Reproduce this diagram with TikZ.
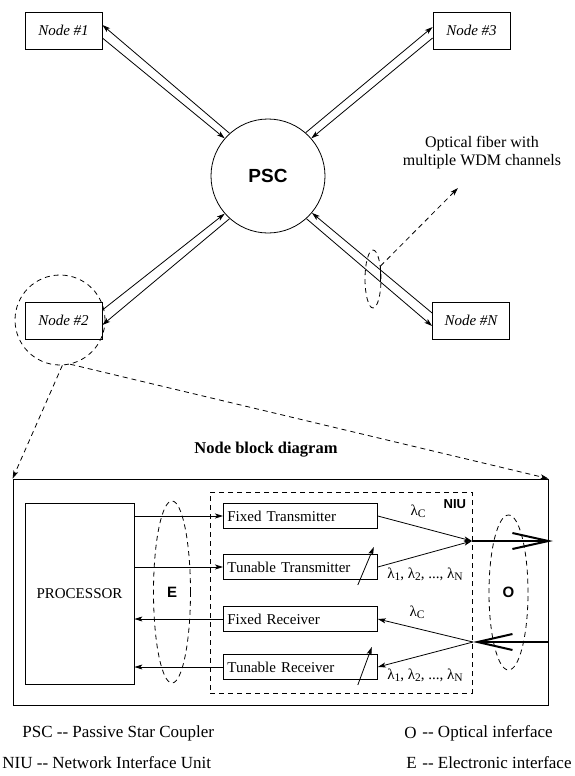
\documentclass[tikz,border=0pt]{standalone}
\usepackage{fontspec}
\setmainfont{Liberation Serif}
\setsansfont{Liberation Sans}
\usetikzlibrary{arrows.meta,shapes.geometric,calc}
\newcommand{\lsub}[1]{λ\raisebox{-0.35ex}{\fontsize{11.5}{11.5}\selectfont #1}}
\begin{document}
\begin{tikzpicture}[x=1pt,y=-1pt,line width=0.8pt,
  nodebox/.style={draw,rectangle,minimum width=77pt,minimum height=37pt,inner sep=0pt,
    font=\fontsize{15}{15}\selectfont\itshape},
  fib/.style={-{Stealth[length=8pt,width=5pt,inset=2pt]}},
  sarr/.style={-{Stealth[length=8pt,width=5pt,inset=2pt]}},
  dsh/.style={dash pattern=on 5pt off 4pt},
  unitbox/.style={draw,rectangle,minimum width=154pt,minimum height=25pt,inner sep=0pt,
    anchor=west,text width=146pt,align=left,font=\fontsize{15}{15}\selectfont},
  ilabel/.style={font=\fontsize{15}{15}\selectfont\bfseries\sffamily},
  lam/.style={font=\fontsize{15}{15}\selectfont,inner sep=0pt},
  optarr/.style={line width=2pt},
  legend/.style={anchor=west,inner sep=0pt,font=\fontsize{17}{17}\selectfont}]
\useasboundingbox (0,0) rectangle (574,776);

% ---------- star network ----------
\node[nodebox] (n1) at (63.5,30.5) {Node \#1};
\node[nodebox] (n3) at (471.5,30.5) {Node \#3};
\node[nodebox] (n2) at (63.5,320.5) {Node \#2};
\node[nodebox] (nN) at (471,320.5) {Node \#N};
\node[draw,circle,minimum size=114pt,inner sep=0pt,
      font=\fontsize{19}{19}\selectfont\bfseries\sffamily] (psc) at (268,176) {PSC};

\draw[fib] (psc.132) -- ([yshift=5.5pt]n1.east);
\draw[fib] ([yshift=-7.5pt]n1.east) -- (psc.139);
\draw[fib] (psc.49) -- ([yshift=3.5pt]n3.west);
\draw[fib] ([yshift=-7.5pt]n3.west) -- (psc.41);
\draw[fib] ([yshift=10.5pt]n2.east) -- (psc.221);
\draw[fib] (psc.228) -- ([yshift=-4.5pt]n2.east);
\draw[fib] ([yshift=7.5pt]nN.west) -- (psc.320);
\draw[fib] (psc.312) -- ([yshift=-5.5pt]nN.west);

\node[draw,dsh,ellipse,minimum width=16pt,minimum height=58pt,inner sep=0pt] (fe) at (373,279) {};
\draw ([shift={(-1pt,13pt)}]fe.east) -- ([shift={(-1pt,-3pt)}]fe.east);
\node[align=center,font=\fontsize{16}{18}\selectfont] (ftxt) at (482,153)
  {Optical fiber with\\multiple WDM channels};
\coordinate (ftip) at (458,188);
\draw[dsh,sarr] (fe.60) -- (ftip);

\node[draw,dsh,circle,minimum size=90pt,inner sep=0pt] (zc) at (60,320) {};

% ---------- node block diagram ----------
\node[draw,rectangle,minimum width=535pt,minimum height=226pt,inner sep=0pt] (blk) at (280.5,592) {};
\draw[dsh,sarr] (zc.273) -- (blk.north west);
\draw[dsh,sarr] (zc.283) -- (blk.north east);
\node[font=\fontsize{16.5}{16.5}\selectfont\bfseries] (title) at (266,450) {Node block diagram};

\node[draw,rectangle,minimum width=109pt,minimum height=181pt,inner sep=0pt,
      font=\fontsize{15}{15}\selectfont] (proc) at (79.5,593.5) {PROCESSOR};
\node[draw,dsh,rectangle,minimum width=262pt,minimum height=201pt,inner sep=0pt] (niu) at (341,592.5) {};
\node[anchor=north east,inner sep=0pt,font=\fontsize{13}{13}\selectfont\bfseries\sffamily]
  (niul) at ([xshift=-6pt,yshift=-8pt]niu.north east) {NIU};

\node[draw,dsh,ellipse,minimum width=37pt,minimum height=182pt,inner sep=0pt,ilabel] (eell) at (172,592) {E};
\node[draw,dsh,ellipse,minimum width=39pt,minimum height=155pt,inner sep=0pt,ilabel] (oell) at (508.5,592.5) {O};

\node[unitbox] (ft) at (223,516) {Fixed Transmitter};
\node[unitbox] (tt) at (223,567) {Tunable Transmitter};
\node[unitbox] (fr) at (223,619) {Fixed Receiver};
\node[unitbox] (tr) at (223,667) {Tunable Receiver};

\draw[sarr] (proc.east |- ft.west) -- (ft.west);
\draw[sarr] (proc.east |- tt.west) -- (tt.west);
\draw[sarr] (fr.west) -- (proc.east |- fr.west);
\draw[sarr] (tr.west) -- (proc.east |- tr.west);

% tunable marks
\draw[sarr] ([xshift=-20pt,yshift=-18pt]tt.east) -- ([xshift=-4pt,yshift=20pt]tt.east);
\draw[sarr] ([xshift=-20pt,yshift=-18pt]tr.east) -- ([xshift=-6pt,yshift=20pt]tr.east);

% transmit side
\coordinate (tj) at (472,541);
\coordinate (txo) at (553,541);
\draw[sarr] (ft.east) -- (tj);
\draw[sarr] (tt.east) -- (tj);
\draw[optarr,-{Straight Barb[length=36pt,width=16pt]}] (tj) -- (txo);

% receive side
\coordinate (rj) at (473,642);
\coordinate (rxi) at (548,642);
\draw[optarr,-{Straight Barb[length=35pt,width=16pt]}] (rxi) -- (rj);
\draw[sarr] (rj) -- (fr.east);
\draw[sarr] (rj) -- (tr.east);

% wavelength labels
\node[lam] (l1) at (418,511) {\lsub{C}};
\node[lam] (l2) at (425,574) {\lsub{1}, \lsub{2}, ..., \lsub{N}};
\node[lam] (l3) at (417,612) {\lsub{C}};
\node[lam] (l4) at (425,675) {\lsub{1}, \lsub{2}, ..., \lsub{N}};

% legend
\node[legend] (lg1) at (22,733) {PSC -{}- Passive Star Coupler};
\node[legend] (lg2) at (2,763) {NIU -{}- Network Interface Unit};
\node[legend] (lg3o) at (404,733) {O};
\node[legend] (lg3) at (422,733) {-{}- Optical inferface};
\node[legend] (lg4e) at (406,763) {E};
\node[legend] (lg4) at (422,763) {-{}- Electronic interface};
\end{tikzpicture}
\end{document}
